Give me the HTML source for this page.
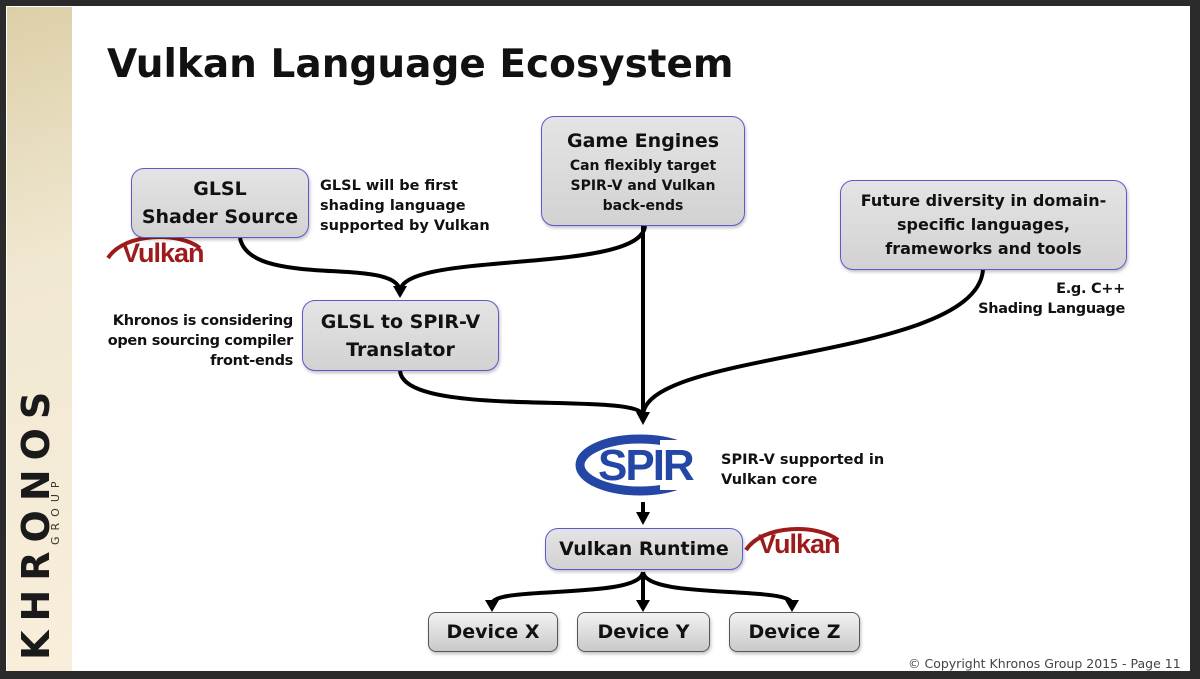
<!DOCTYPE html>
<html><head><meta charset="utf-8"><style>
html,body{margin:0;padding:0}
body{width:1200px;height:679px;background:#2b2b2b;position:relative;overflow:hidden;font-family:"DejaVu Sans","Liberation Sans",sans-serif}
#slide{position:absolute;left:6px;top:6px;width:1184px;height:665px;background:#fff}
#strip{position:absolute;left:7px;top:7px;width:65px;height:664px;background:linear-gradient(160deg,#dccfa8,#f1e8d2 40%,#f8eedb)}
.t{position:absolute;color:#111;white-space:nowrap}
.box{position:absolute;box-sizing:border-box;border:1.5px solid #5a5acc;border-radius:13px;background:linear-gradient(#e4e4e4,#d2d2d2);box-shadow:1px 2px 3px rgba(0,0,0,.25);display:flex;align-items:center;justify-content:center;text-align:center;color:#111;font-weight:bold}
.dev{border:1.5px solid #555;border-radius:8px;background:linear-gradient(#f2f2f2,#c9c9c9);font-size:20px}
.vk{position:absolute;font-family:"Liberation Sans",sans-serif;font-weight:bold;color:#9e1b1b;font-size:27px;letter-spacing:-1px}
</style></head><body>
<div id="slide"></div>
<div id="strip"></div>
<div class="t" style="left:14px;top:405px;font-size:38px;font-weight:bold;letter-spacing:9px;color:#1a1a1a;transform-origin:0 0;transform:translate(0,255px) rotate(-90deg)">KHRONOS</div>
<div class="t" style="left:49px;top:425px;font-size:11px;letter-spacing:6px;color:#333;transform-origin:0 0;transform:translate(0,120px) rotate(-90deg)">GROUP</div>
<div class="t" style="left:107px;top:42px;font-size:39px;font-weight:bold">Vulkan Language Ecosystem</div>

<svg width="1200" height="679" style="position:absolute;left:0;top:0" fill="none" stroke="#000" stroke-width="4">
 <path d="M240 238 C250 290 400 255 400 292"/>
 <path d="M645 226 C640 275 400 250 400 292"/>
 <path d="M643 226 L643 416"/>
 <path d="M400 371 C405 420 643 390 643 416"/>
 <path d="M983 270 C975 360 643 350 643 416"/>
 <path d="M643 502 L643 516"/>
 <path d="M643 572 C640 600 492 585 492 604"/>
 <path d="M643 572 L643 604"/>
 <path d="M643 572 C646 600 792 585 792 604"/>
 <g fill="#000" stroke="none">
  <path d="M393 286 L407 286 L400 298Z"/>
  <path d="M636 412 L650 412 L643 425Z"/>
  <path d="M636 512 L650 512 L643 525Z"/>
  <path d="M485 600 L499 600 L492 612Z"/>
  <path d="M636 600 L650 600 L643 612Z"/>
  <path d="M785 600 L799 600 L792 612Z"/>
 </g>
 <ellipse cx="640" cy="465" rx="60" ry="26" stroke="#2447a6" stroke-width="9"/>
 <rect x="660" y="440" width="50" height="50" fill="#fff" stroke="none"/>
 <path d="M108 258 C125 232 180 232 200 248" stroke="#9e1b1b" stroke-width="4"/>
 <path d="M746 550 C763 524 818 524 838 540" stroke="#9e1b1b" stroke-width="4"/>
</svg>
<div class="t" style="left:598px;top:441px;font-family:'Liberation Sans',sans-serif;font-weight:bold;font-size:44px;color:#2447a6;letter-spacing:-2px">SPIR</div>

<div class="box" style="left:131px;top:168px;width:178px;height:70px;font-size:19px;line-height:28px">GLSL<br>Shader Source</div>
<div class="box" style="left:541px;top:116px;width:204px;height:110px;font-size:14px;line-height:20px"><div><span style="font-size:19px;line-height:30px">Game Engines</span><br>Can flexibly target<br>SPIR-V and Vulkan<br>back-ends</div></div>
<div class="box" style="left:840px;top:180px;width:287px;height:90px;font-size:16px;line-height:24px">Future diversity in domain-<br>specific languages,<br>frameworks and tools</div>
<div class="box" style="left:302px;top:300px;width:197px;height:71px;font-size:19px;line-height:28px">GLSL to SPIR-V<br>Translator</div>
<div class="box" style="left:545px;top:528px;width:198px;height:42px;font-size:19px">Vulkan Runtime</div>
<div class="box dev" style="left:428px;top:612px;width:130px;height:40px;font-size:19px">Device X</div>
<div class="box dev" style="left:577px;top:612px;width:133px;height:40px;font-size:19px">Device Y</div>
<div class="box dev" style="left:729px;top:612px;width:131px;height:40px;font-size:19px">Device Z</div>

<div class="t" style="left:320px;top:176px;font-size:14.5px;line-height:20px;font-weight:bold">GLSL will be first<br>shading language<br>supported by Vulkan</div>
<div class="t" style="left:100px;top:311px;width:193px;text-align:right;font-size:14.5px;line-height:20px;font-weight:bold;letter-spacing:-0.3px">Khronos is considering<br>open sourcing compiler<br>front-ends</div>
<div class="t" style="left:960px;top:279px;width:165px;text-align:right;font-size:14.5px;line-height:20px;font-weight:bold;letter-spacing:-0.3px">E.g. C++<br>Shading Language</div>
<div class="t" style="left:721px;top:450px;font-size:14.5px;line-height:20px;font-weight:bold">SPIR-V supported in<br>Vulkan core</div>
<div class="vk" style="left:122px;top:238px">Vulkan</div>
<div class="vk" style="left:758px;top:529px">Vulkan</div>
<div class="t" style="left:908px;top:656px;font-size:12.5px;color:#444">© Copyright Khronos Group 2015 - Page 11</div>
</body></html>
